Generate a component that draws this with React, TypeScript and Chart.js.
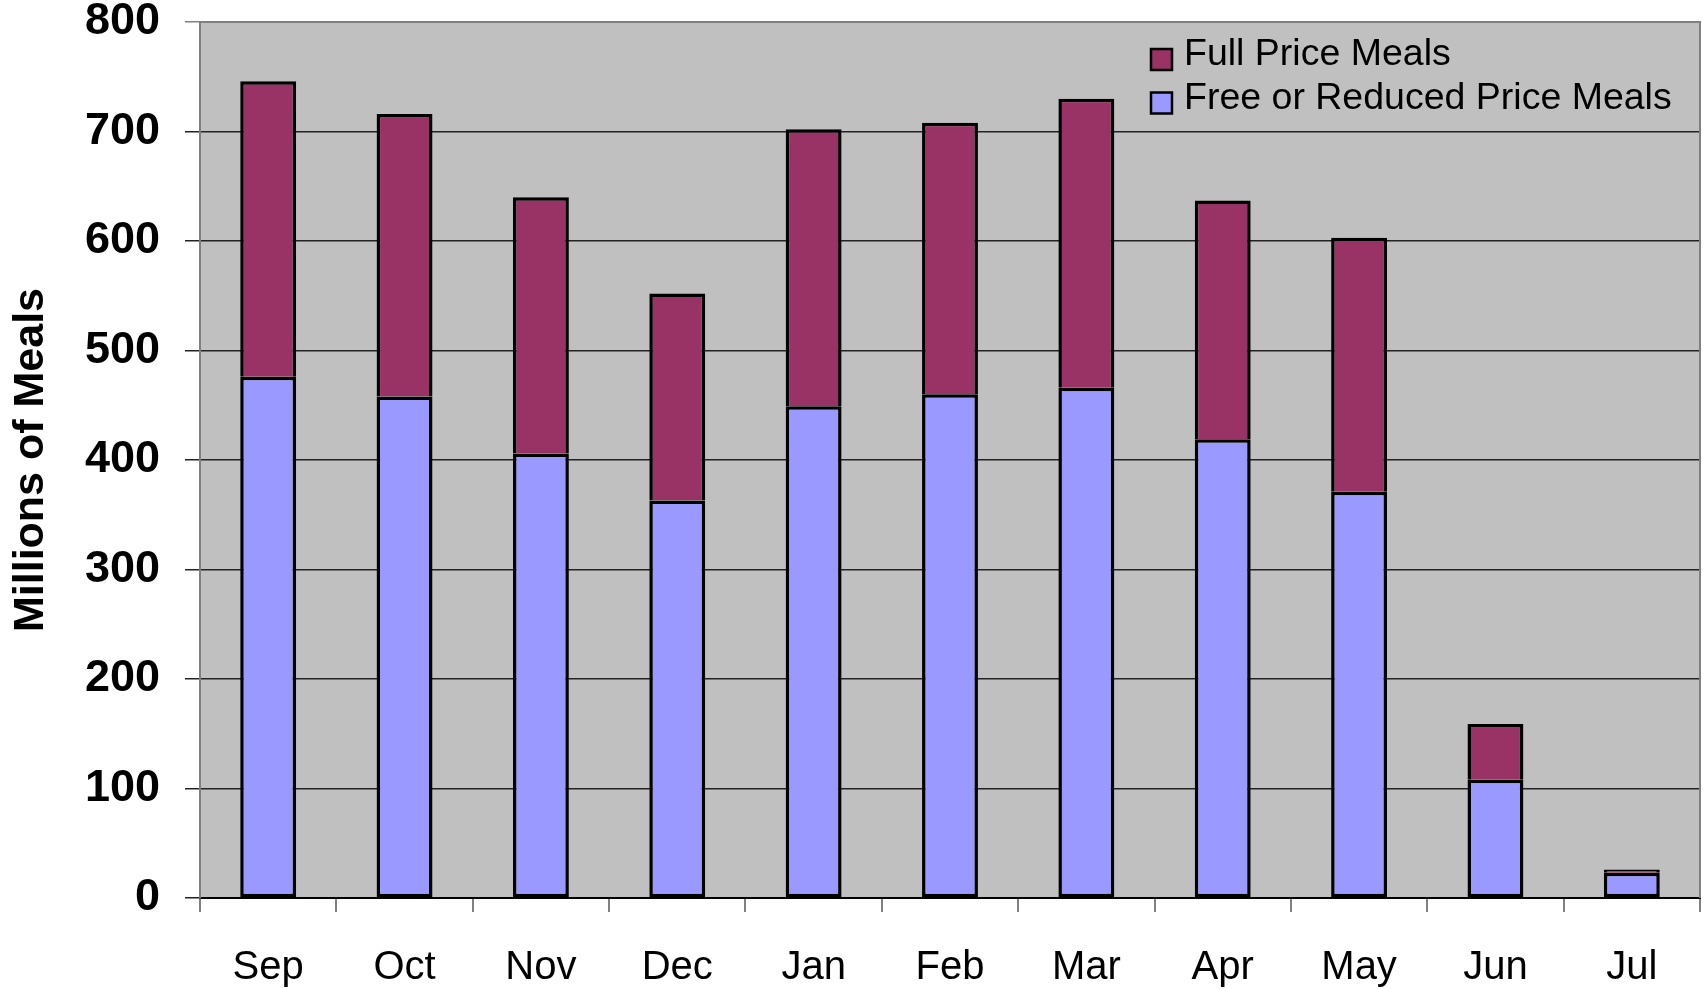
import React, { useEffect, useRef } from "react";
import { Chart, registerables } from "chart.js";

Chart.register(...registerables);

// ---- Data ----
const months = ["Sep", "Oct", "Nov", "Dec", "Jan", "Feb", "Mar", "Apr", "May", "Jun", "Jul"];
const freeOrReducedMeals = [476, 458, 406, 363, 449, 460, 466, 419, 371, 108, 23];
const fullPriceMeals = [270, 258, 234, 189, 253, 248, 264, 218, 232, 51, 3];
const seriesLabels = ["Free or Reduced Price Meals", "Full Price Meals"];
const yAxisTitle = "Millions of Meals";
const yMin = 0;
const yMax = 800;
const yStep = 100;

const FONT = "'Liberation Sans', Arial, Helvetica, sans-serif";

const plotBackground = {
  id: "plotBackground",
  beforeDraw(chart: any) {
    const { ctx, chartArea } = chart;
    ctx.save();
    ctx.fillStyle = "#C0C0C0";
    ctx.fillRect(chartArea.left, chartArea.top, chartArea.right - chartArea.left, chartArea.bottom - chartArea.top);
    ctx.restore();
  },
  beforeDatasetsDraw(chart: any) {
    const { ctx, chartArea } = chart;
    ctx.save();
    ctx.strokeStyle = "#808080";
    ctx.lineWidth = 2;
    ctx.beginPath();
    ctx.moveTo(chartArea.left, chartArea.bottom);
    ctx.lineTo(chartArea.left, chartArea.top);
    ctx.lineTo(chartArea.right, chartArea.top);
    ctx.lineTo(chartArea.right, chartArea.bottom);
    ctx.stroke();
    ctx.restore();
  },
};

const insideLegend = {
  id: "insideLegend",
  afterDraw(chart: any) {
    const { ctx, chartArea } = chart;
    const datasets = chart.data.datasets;
    const order = datasets.map((_: any, i: number) => i).reverse();
    const x0 = chartArea.left + 951;
    const y0 = chartArea.top + 33;
    ctx.save();
    ctx.font = `37.5px ${FONT}`;
    ctx.textBaseline = "middle";
    ctx.textAlign = "left";
    order.forEach((di: number, row: number) => {
      const ds = datasets[di];
      const cy = y0 + row * 43.5;
      ctx.fillStyle = ds.backgroundColor;
      ctx.fillRect(x0, cy - 6, 21, 21);
      ctx.strokeStyle = "#000";
      ctx.lineWidth = 2.5;
      ctx.strokeRect(x0, cy - 6, 21, 21);
      ctx.fillStyle = "#000";
      ctx.fillText(ds.label, x0 + 33, cy);
    });
    ctx.restore();
  },
};

export default function App() {
  const canvasRef = useRef<HTMLCanvasElement | null>(null);

  useEffect(() => {
    if (!canvasRef.current) return;
    const chart = new Chart(canvasRef.current, {
      type: "bar",
      data: {
        labels: months,
        datasets: [
          {
            label: seriesLabels[0],
            data: freeOrReducedMeals,
            backgroundColor: "#9999FF",
            borderColor: "#000000",
            borderWidth: 3.5,
            borderSkipped: false,
            barPercentage: 0.41,
            categoryPercentage: 1,
          },
          {
            label: seriesLabels[1],
            data: fullPriceMeals,
            backgroundColor: "#993366",
            borderColor: "#000000",
            borderWidth: 3.5,
            borderSkipped: "start",
            barPercentage: 0.41,
            categoryPercentage: 1,
          },
        ],
      },
      options: {
        responsive: false,
        animation: false,
        devicePixelRatio: 1,
        layout: { padding: { top: 22, right: 3, left: 0, bottom: 0 } },
        plugins: {
          legend: { display: false },
          tooltip: { enabled: false },
        },
        scales: {
          x: {
            stacked: true,
            offset: true,
            grid: {
              offset: true,
              drawOnChartArea: false,
              drawTicks: true,
              tickLength: 14,
              color: "#808080",
              lineWidth: 2,
            },
            border: { display: true, color: "#000000", width: 2 },
            ticks: {
              color: "#000000",
              font: { family: FONT, size: 40 },
              padding: 32,
              maxRotation: 0,
            },
            afterFit(scale: any) {
              scale.height = 91;
              scale.paddingLeft = 0;
              scale.paddingRight = 0;
            },
          },
          y: {
            stacked: true,
            min: yMin,
            max: yMax,
            ticks: {
              stepSize: yStep,
              color: "#000000",
              font: { family: FONT, size: 45, weight: "bold" },
              padding: 25,
            },
            grid: {
              drawTicks: true,
              tickLength: 15,
              color: (c: any) => (c.tick && c.tick.value === yMax ? "#808080" : "#222222"),
              lineWidth: 1.5,
            },
            border: { display: true, color: "#808080", width: 2 },
            title: {
              display: true,
              text: yAxisTitle,
              color: "#000000",
              font: { family: FONT, size: 43, weight: "bold" },
              padding: { top: 5, bottom: 0 },
            },
            afterFit(scale: any) {
              scale.width = 200;
              scale.paddingTop = 0;
              scale.paddingBottom = 0;
            },
          },
        },
      },
      plugins: [plotBackground, insideLegend],
    });
    return () => chart.destroy();
  }, []);

  return (
    <div style={{ position: "fixed", left: 0, top: 0, width: 1703, height: 989, background: "#fff" }}>
      <canvas ref={canvasRef} width={1703} height={989} style={{ display: "block" }} />
    </div>
  );
}
